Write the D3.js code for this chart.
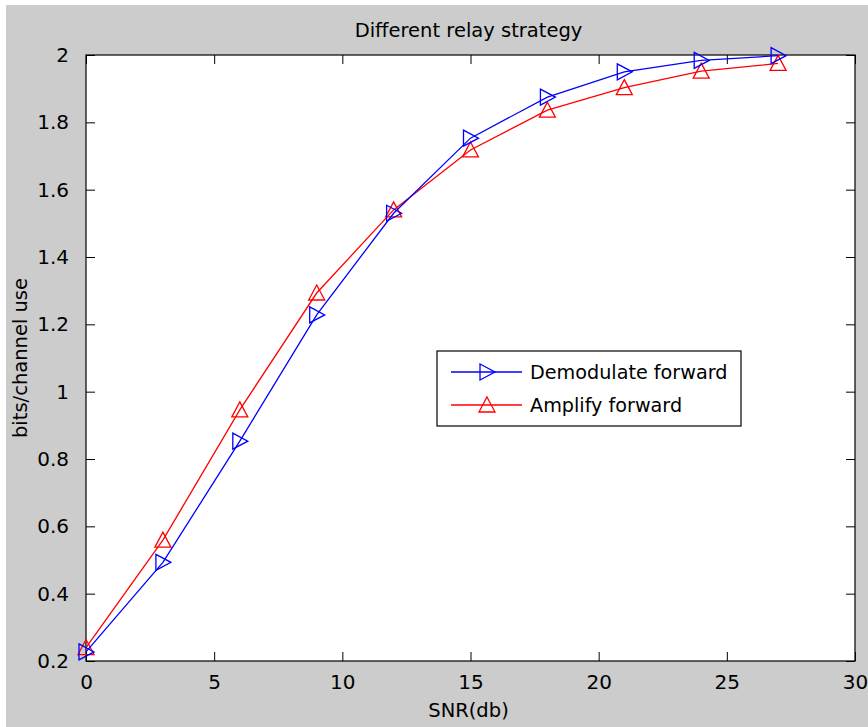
<!DOCTYPE html>
<html>
<head>
<meta charset="utf-8">
<script src="https://cdn.jsdelivr.net/npm/d3@7"></script>
<style>
  html, body { margin: 0; padding: 0; background: #ffffff; }
  svg { display: block; }
  text { font-family: "DejaVu Sans", sans-serif; fill: #000; }
</style>
</head>
<body>
<script>
// SNR sample points (dB)
const snr = [0, 3, 6, 9, 12, 15, 18, 21, 24, 27];
// Throughput in bits per channel use for each relay strategy
const demodulateForward = [0.227, 0.493, 0.853, 1.228, 1.530, 1.753, 1.875, 1.950, 1.984, 1.998];
const amplifyForward    = [0.240, 0.559, 0.946, 1.293, 1.540, 1.718, 1.836, 1.903, 1.952, 1.975];
const seriesNames = ["Demodulate forward", "Amplify forward"];
const seriesColors = ["#0000ff", "#ff0000"];
const xTicks = [0, 5, 10, 15, 20, 25, 30];
const yTicks = [0.2, 0.4, 0.6, 0.8, 1, 1.2, 1.4, 1.6, 1.8, 2];

const W = 868, H = 727;
const plot = { left: 86, top: 55, right: 855, bottom: 661 };

const svg = d3.select("body").append("svg").attr("width", W).attr("height", H);

// figure background
svg.append("rect").attr("x", 6).attr("y", 5).attr("width", W - 6).attr("height", H - 5)
  .attr("fill", "#cccccc");

const x = d3.scaleLinear().domain([0, 30]).range([plot.left, plot.right]);
const y = d3.scaleLinear().domain([0.2, 2]).range([plot.bottom, plot.top]);

// axes area
svg.append("rect").attr("x", plot.left).attr("y", plot.top)
  .attr("width", plot.right - plot.left).attr("height", plot.bottom - plot.top)
  .attr("fill", "#ffffff");

const tickLen = 9;
const fmt = d => d3.format("")(+d.toFixed(1));

// bottom axis: inward ticks, labels below
const bottomAxis = svg.append("g").attr("transform", `translate(0,${plot.bottom})`)
  .call(d3.axisBottom(x).tickValues(xTicks).tickSizeInner(-tickLen).tickSizeOuter(0)
    .tickPadding(14).tickFormat(fmt));
const topAxis = svg.append("g").attr("transform", `translate(0,${plot.top})`)
  .call(d3.axisTop(x).tickValues(xTicks).tickSizeInner(-tickLen).tickSizeOuter(0).tickFormat(""));
const leftAxis = svg.append("g").attr("transform", `translate(${plot.left},0)`)
  .call(d3.axisLeft(y).tickValues(yTicks).tickSizeInner(-tickLen).tickSizeOuter(0)
    .tickPadding(17).tickFormat(fmt));
const rightAxis = svg.append("g").attr("transform", `translate(${plot.right},0)`)
  .call(d3.axisRight(y).tickValues(yTicks).tickSizeInner(-tickLen).tickSizeOuter(0).tickFormat(""));

[bottomAxis, topAxis, leftAxis, rightAxis].forEach(g => {
  g.select(".domain").remove();
  g.selectAll(".tick line").attr("stroke", "#000").attr("stroke-width", 1);
  g.selectAll(".tick text").attr("font-size", 20).attr("font-family", "DejaVu Sans").attr("fill", "#000");
});
bottomAxis.selectAll(".tick text").attr("dy", "0.71em");

// axes box
svg.append("rect").attr("x", plot.left).attr("y", plot.top)
  .attr("width", plot.right - plot.left).attr("height", plot.bottom - plot.top)
  .attr("fill", "none").attr("stroke", "#000").attr("stroke-width", 1.2);

// marker shapes
function triRight(cx, cy) {
  return `M${cx - 7},${cy - 8}L${cx + 8},${cy}L${cx - 7},${cy + 8}Z`;
}
function triUp(cx, cy) {
  return `M${cx},${cy - 8}L${cx + 8},${cy + 7}L${cx - 8},${cy + 7}Z`;
}
const markers = [triRight, triUp];
const seriesData = [demodulateForward, amplifyForward];

const line = d3.line().x(d => x(d[0])).y(d => y(d[1]));

// draw amplify first so demodulate sits on top where they cross
[1, 0].forEach(i => {
  const pts = snr.map((s, k) => [s, seriesData[i][k]]);
  const g = svg.append("g");
  g.append("path").attr("d", line(pts)).attr("fill", "none")
    .attr("stroke", seriesColors[i]).attr("stroke-width", 1.3);
  g.selectAll("path.m").data(pts).enter().append("path").attr("class", "m")
    .attr("d", d => markers[i](x(d[0]), y(d[1])))
    .attr("fill", "none").attr("stroke", seriesColors[i]).attr("stroke-width", 1.3);
});

// title and axis labels
svg.append("text").attr("x", (plot.left + plot.right) / 2 - 2).attr("y", 37)
  .attr("text-anchor", "middle").attr("font-size", 19.5).text("Different relay strategy");
svg.append("text").attr("x", (plot.left + plot.right) / 2 - 2).attr("y", 717)
  .attr("text-anchor", "middle").attr("font-size", 19.5).text("SNR(db)");
svg.append("text").attr("transform", `translate(27,${(plot.top + plot.bottom) / 2}) rotate(-90)`)
  .attr("text-anchor", "middle").attr("font-size", 19.5).text("bits/channel use");

// legend
const lg = svg.append("g");
lg.append("rect").attr("x", 437).attr("y", 351).attr("width", 304).attr("height", 75)
  .attr("fill", "#ffffff").attr("stroke", "#000").attr("stroke-width", 1.2);
seriesNames.forEach((name, i) => {
  const ly = 372 + i * 33;
  lg.append("line").attr("x1", 451).attr("x2", 522).attr("y1", ly).attr("y2", ly)
    .attr("stroke", seriesColors[i]).attr("stroke-width", 1.3);
  lg.append("path").attr("d", markers[i](487, ly)).attr("fill", "none")
    .attr("stroke", seriesColors[i]).attr("stroke-width", 1.3);
  lg.append("text").attr("x", 530).attr("y", ly + 7).attr("font-size", 19.2).text(name);
});
</script>
</body>
</html>
